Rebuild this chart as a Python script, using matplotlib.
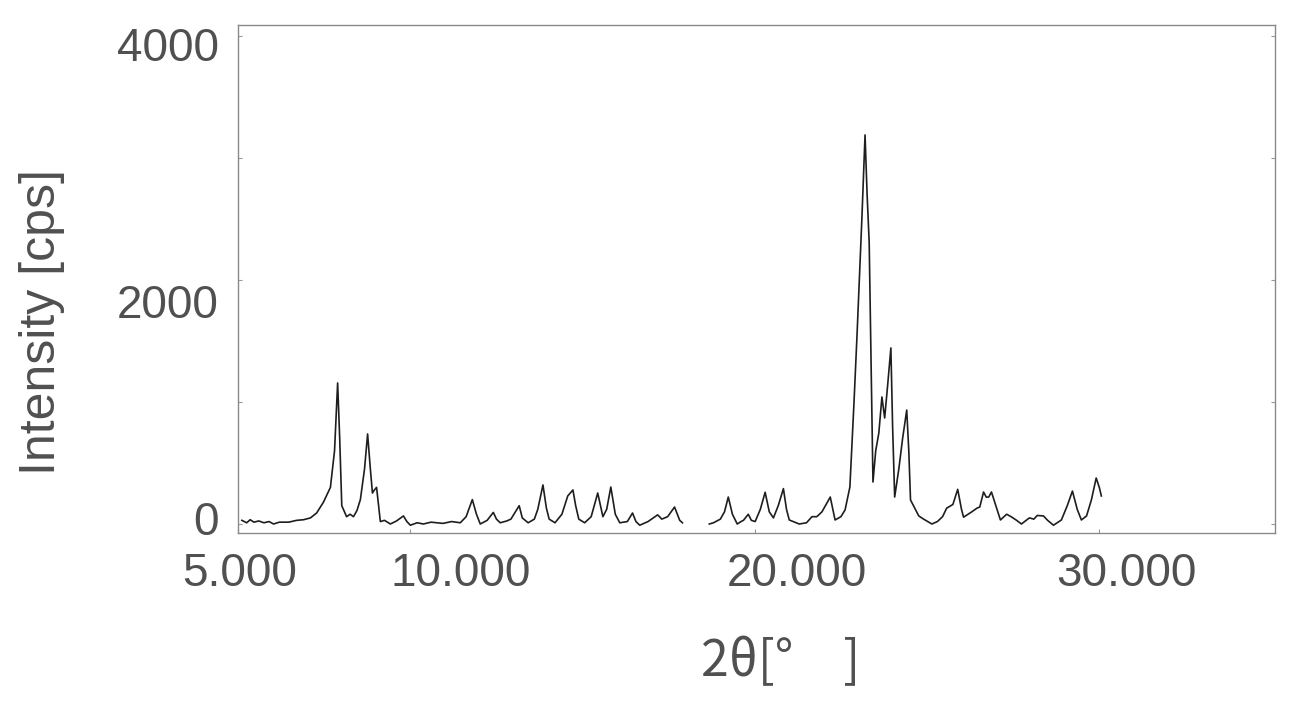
import numpy as np
import matplotlib
matplotlib.use("Agg")
from matplotlib import pyplot as plt
from matplotlib.transforms import ScaledTranslation

###################
## Data
###################
two_theta = [
  5.11, 5.25, 5.35, 5.46, 5.60, 5.75, 5.90, 6.03, 6.20, 6.47, 6.70, 6.90, 7.10, 7.28, 7.48,
  7.68, 7.80, 7.89, 7.95, 8.01, 8.15, 8.25, 8.35, 8.45, 8.55, 8.67, 8.76, 8.84, 8.90, 8.96,
  9.02, 9.13, 9.25, 9.42, 9.60, 9.80, 9.90, 10.00, 10.20, 10.38, 10.60, 10.95, 11.20, 11.45,
  11.62, 11.80, 11.92, 12.03, 12.23, 12.41, 12.50, 12.61, 12.80, 12.92, 13.16, 13.25, 13.42,
  13.60, 13.70, 13.85, 13.95, 14.03, 14.20, 14.40, 14.57, 14.72, 14.80, 14.89, 15.06, 15.25,
  15.44, 15.59, 15.70, 15.82, 15.95, 16.08, 16.30, 16.45, 16.55, 16.66, 16.90, 17.18, 17.30,
  17.47, 17.67, 17.82, 17.90, 18.30, 18.68, 18.80, 19.00, 19.12, 19.23, 19.35, 19.49, 19.60,
  19.67, 19.81, 19.90, 20.01, 20.16, 20.30, 20.42, 20.54, 20.68, 20.83, 20.92, 21.00, 21.29,
  21.50, 21.66, 21.80, 21.95, 22.19, 22.33, 22.50, 22.62, 22.76, 22.88, 22.97, 23.11, 23.20,
  23.26, 23.32, 23.37, 23.43, 23.51, 23.60, 23.69, 23.77, 23.86, 23.95, 24.00, 24.06, 24.18,
  24.29, 24.41, 24.47, 24.52, 24.76, 24.90, 25.14, 25.30, 25.45, 25.57, 25.75, 25.89, 26.00,
  26.06, 26.30, 26.45, 26.53, 26.64, 26.72, 26.79, 26.87, 27.02, 27.13, 27.31, 27.44, 27.60,
  27.74, 27.97, 28.10, 28.20, 28.38, 28.50, 28.67, 28.90, 29.07, 29.22, 29.36, 29.48, 29.63,
  29.77, 29.91, 30.00, 30.06,
]
intensity = [
  30, 10, 35, 15, 25, 10, 20, 0, 15, 15, 30, 35, 50, 90, 180,
  300, 600, 1156, 700, 150, 60, 80, 60, 110, 200, 450, 738, 450, 254, 280,
  300, 20, 30, 0, 25, 66, 20, -10, 10, 0, 15, 5, 20, 10,
  60, 200, 80, 0, 30, 95, 40, 10, 25, 40, 150, 50, 10,
  40, 120, 320, 130, 40, 10, 80, 230, 279, 150, 40, 10, 60,
  254, 60, 120, 303, 80, 10, 20, 90, 20, -10, 20, 75, 40,
  60, 139, 30, 10, np.nan, 0, 10, 40, 100, 221, 80, 0, 20,
  30, 80, 30, 20, 120, 260, 100, 50, 150, 290, 120, 33, 0,
  10, 60, 60, 100, 221, 33, 60, 115, 303, 1000, 1566, 2516, 3189,
  2700, 2311, 1400, 344, 600, 746, 1041, 869, 1150, 1443, 800, 221, 450,
  700, 934, 600, 197, 66, 40, 0, 20, 60, 130, 160, 284, 120,
  56, 100, 130, 139, 262, 220, 221, 262, 130, 33, 80, 60, 30,
  0, 50, 40, 70, 66, 30, -10, 33, 150, 270, 120, 33, 66,
  197, 377, 300, 230,
]

x_ticks = [5, 10, 20, 30]
x_tick_labels = ["5.000", "10.000", "20.000", "30.000"]
y_ticks = [0, 1000, 2000, 3000, 4000]
y_tick_labels = ["0", "", "2000", "", "4000"]


def main():
  ###################
  ## Figure
  ###################
  fig = plt.figure(figsize=(13.01, 7.02), dpi=100)
  ax = fig.add_axes([0.183, 0.2407, 0.797, 0.7237])

  text_color = "#505050"
  ax.plot(two_theta, intensity, color="#1e1e1e", linewidth=1.2)

  ax.set_xlim(5.1, 35.1)
  ax.set_ylim(-74, 4090)

  ###################
  ## Spines / ticks
  ###################
  for spine in ax.spines.values():
    spine.set_color("#8a8a8a")
    spine.set_linewidth(1.0)

  ax.set_xticks(x_ticks)
  ax.set_xticklabels(x_tick_labels)
  ax.set_yticks(y_ticks)
  ax.set_yticklabels(y_tick_labels)
  ax.tick_params(axis="both", direction="in", length=3, width=0.8, color="#999999",
                 labelsize=33, labelcolor=text_color, right=True, top=False)
  ax.tick_params(axis="x", pad=14)
  ax.tick_params(axis="y", pad=14)
  for label in ax.get_xticklabels() + ax.get_yticklabels():
    label.set_fontfamily("Liberation Sans")

  # the scanned labels sit a little off their ticks
  x_shift_px = [2, 50, 42, 27]
  for label, dx in zip(ax.get_xticklabels(), x_shift_px):
    label.set_transform(label.get_transform() + ScaledTranslation(dx / 100, 0, fig.dpi_scale_trans))
  y_shift_px = [6, 0, -21, 0, -8]
  for label, dy in zip(ax.get_yticklabels(), y_shift_px):
    label.set_transform(label.get_transform() + ScaledTranslation(0, dy / 100, fig.dpi_scale_trans))

  ###################
  ## Axis titles
  ###################
  fig.text(0.032, 0.541, "Intensity [cps]", rotation=90, ha="center", va="center",
           fontsize=36, color=text_color, fontfamily="Liberation Sans")
  fig.text(0.600, 0.057, "2θ[°\u3000]", ha="center", va="center", fontsize=36,
           color=text_color, family=["Noto Sans CJK JP", "DejaVu Sans"])

  fig.savefig("out.png", dpi=100)
  plt.close(fig)


if __name__ == "__main__":
  main()
